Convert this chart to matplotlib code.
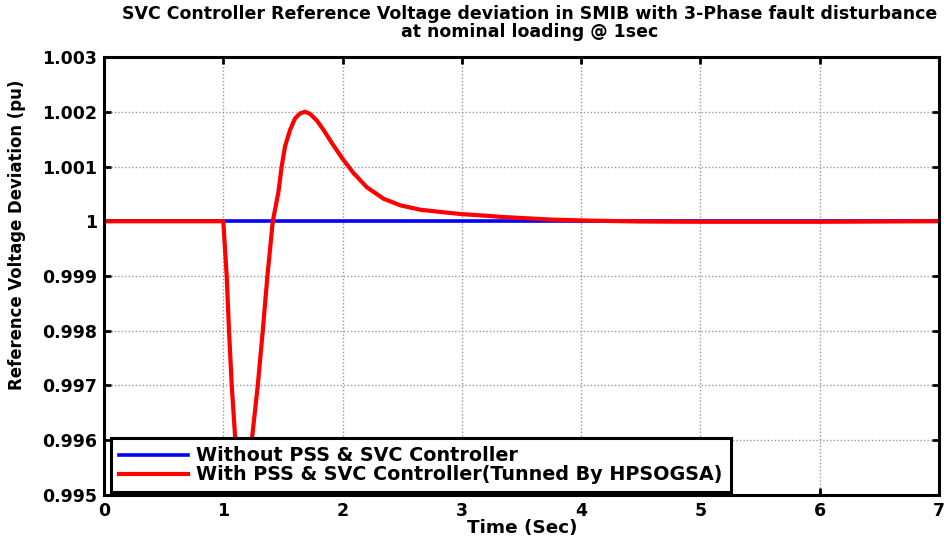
import numpy as np
import matplotlib
matplotlib.use("Agg")
import matplotlib.pyplot as plt

# フォント設定（横に引き伸ばされた太字に近づけるため幅の広いDejaVu Sansを使用）
plt.rcParams['font.family'] = ['DejaVu Sans']
plt.rcParams['font.weight'] = 'bold'

# データ
t_without = [0.0, 7.0]
v_without = [1.0, 1.0]

t_with = [0.0, 1.0, 1.0286, 1.048, 1.071, 1.101, 1.13, 1.16, 1.19, 1.239,
          1.289, 1.331, 1.370, 1.415, 1.462, 1.49, 1.518, 1.56, 1.602, 1.644,
          1.686, 1.728, 1.784, 1.84, 1.91, 2.0, 2.092, 2.204, 2.345, 2.485,
          2.653, 2.82, 3.0, 3.21, 3.325, 3.75, 4.1, 4.5, 5.0, 5.5, 6.0, 6.5, 7.0]
v_with = [1.0, 1.0, 0.999, 0.998, 0.997, 0.996, 0.99498, 0.99445, 0.99495, 0.996,
          0.997, 0.998, 0.999, 1.0, 1.00053, 1.00101, 1.00137, 1.00167, 1.00188, 1.00197,
          1.002, 1.00196, 1.00184, 1.00167, 1.00143, 1.00114, 1.00088, 1.00062, 1.00041, 1.00029,
          1.00021, 1.00017, 1.00013, 1.0001, 1.00008, 1.00003, 1.00001, 0.999995, 0.99999,
          0.99999, 0.99999, 0.999995, 1.0]

x_ticks = [0, 1, 2, 3, 4, 5, 6, 7]
y_ticks = [0.995, 0.996, 0.997, 0.998, 0.999, 1.0, 1.001, 1.002, 1.003]
y_tick_labels = ['0.995', '0.996', '0.997', '0.998', '0.999', '1', '1.001', '1.002', '1.003']

labels = ['Without PSS & SVC Controller',
          'With PSS & SVC Controller(Tunned By HPSOGSA)']

fig = plt.figure(figsize=(9.45, 5.4), dpi=100)
ax = fig.add_axes([104 / 945, 45 / 540, 835 / 945, 438 / 540])

ax.plot(t_without, v_without, color='#0000ff', linewidth=2.6, label=labels[0])
ax.plot(t_with, v_with, color='#ff0000', linewidth=3.0, label=labels[1],
        solid_joinstyle='round')

ax.set_xlim(0, 7)
ax.set_ylim(0.995, 1.003)
ax.set_xticks(x_ticks)
ax.set_yticks(y_ticks)
ax.set_yticklabels(y_tick_labels)

ax.grid(True, color='0.6', linestyle=(0, (1, 1.5)), linewidth=1.0)
ax.tick_params(direction='in', length=5, width=2, labelsize=12.5, pad=5,
               top=True, right=True)
for sp in ax.spines.values():
    sp.set_linewidth(2.2)

leg = ax.legend(loc='lower left', bbox_to_anchor=(0.008, 0.006), borderaxespad=0,
                fontsize=13.8, handlelength=3.6, handletextpad=0.45,
                labelspacing=0.0, borderpad=0.42, fancybox=False, framealpha=1)
leg.get_frame().set_edgecolor('black')
leg.get_frame().set_linewidth(2.2)

# タイトル・軸ラベル
fig.text(530 / 945, 1 - 5 / 540,
         'SVC Controller Reference Voltage deviation in SMIB with 3-Phase fault disturbance\n'
         'at nominal loading @ 1sec',
         ha='center', va='top', fontsize=12.5, linespacing=0.98)
fig.text(522 / 945, 1 - 528 / 540, 'Time (Sec)', ha='center', va='center', fontsize=13.2)
fig.text(17 / 945, 1 - 235 / 540, 'Reference Voltage Deviation (pu)', rotation=90,
         ha='center', va='center', fontsize=11.9)

fig.savefig('out.png', dpi=100)
